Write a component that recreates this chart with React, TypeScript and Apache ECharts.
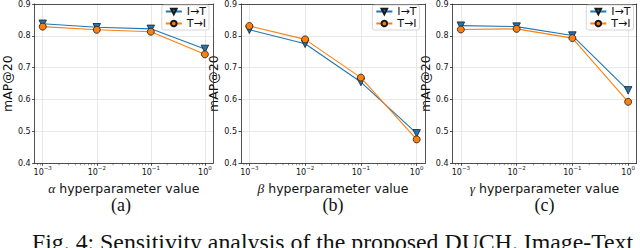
import React, { useEffect, useRef } from "react";
import * as echarts from "echarts";

// ---- data ----
const hyperValues = [0.001, 0.01, 0.1, 1];
const tickExponents = [-3, -2, -1, 0];
const minorTickValues = [
  0.0008, 0.0009,
  0.002, 0.003, 0.004, 0.005, 0.006, 0.007, 0.008, 0.009,
  0.02, 0.03, 0.04, 0.05, 0.06, 0.07, 0.08, 0.09,
  0.2, 0.3, 0.4, 0.5, 0.6, 0.7, 0.8, 0.9,
];
const seriesNames = ["I→T", "T→I"];
const paramSymbols = ["α", "β", "γ"];
const panelLetters = ["(a)", "(b)", "(c)"];
const alphaI2T = [0.838, 0.827, 0.822, 0.759];
const alphaT2I = [0.829, 0.819, 0.813, 0.742];
const betaI2T = [0.819, 0.775, 0.655, 0.494];
const betaT2I = [0.831, 0.789, 0.669, 0.475];
const gammaI2T = [0.832, 0.829, 0.801, 0.629];
const gammaT2I = [0.82, 0.822, 0.793, 0.593];
const captionText = "Fig. 4: Sensitivity analysis of the proposed DUCH. Image-Text";

const panelData = [
  [alphaI2T, alphaT2I],
  [betaI2T, betaT2I],
  [gammaI2T, gammaT2I],
];

// ---- layout / style ----
const gridLefts = [29, 241, 452.5];
const gridWidth = 184;
const gridTop = 3.3;
const gridHeight = 160;
const xMin = -3.15;
const xMax = 0.15;
const yMin = 0.4;
const yMax = 0.9;
const blue = "#1f77b4";
const orange = "#ff7f0e";
const frameColor = "#262626";
const textColor = "#111";
const sans = "DejaVu Sans";
const serif = "Liberation Serif";

function supText(v: number): string {
  if (v === 0) return "0";
  return "\u2212" + Math.abs(v);
}

function buildOption() {
  const grids: any[] = [];
  const xAxes: any[] = [];
  const yAxes: any[] = [];
  const series: any[] = [];
  const legends: any[] = [];
  const graphics: any[] = [];

  const legendRights = [431, 220.5, 6.5];

  for (let i = 0; i < 3; i++) {
    grids.push({
      left: gridLefts[i],
      top: gridTop,
      width: gridWidth,
      height: gridHeight,
      containLabel: false,
    });
  }
  // primary bottom x axes
  for (let i = 0; i < 3; i++) {
    xAxes.push({
      type: "value",
      gridIndex: i,
      position: "bottom",
      min: xMin,
      max: xMax,
      z: 1,
      axisLine: { show: true, onZero: false, lineStyle: { color: frameColor, width: 0.8 } },
      axisTick: {
        show: true,
        length: 2.5,
        customValues: tickExponents,
        lineStyle: { color: frameColor, width: 0.8 },
      },
      axisLabel: {
        show: true,
        customValues: tickExponents,
        margin: 2,
        formatter: (v: number) => `{b|10}{s|${supText(v)}}`,
        rich: {
          b: { fontSize: 8, fontFamily: sans, color: textColor, lineHeight: 11, verticalAlign: "bottom" },
          s: { fontSize: 5.5, fontFamily: sans, color: textColor, verticalAlign: "top" },
        },
      },
      splitLine: { show: true, lineStyle: { color: "#e2e2e2", width: 0.8 } },
      name: `{g|${paramSymbols[i]}} hyperparameter value`,
      nameLocation: "middle",
      nameGap: 13.5,
      nameTextStyle: {
        fontSize: 12.5,
        fontFamily: sans,
        color: textColor,
        lineHeight: 14,
        rich: {
          g: { fontFamily: serif, fontStyle: "italic", fontSize: 13.5, color: textColor, lineHeight: 14 },
        },
      },
    });
  }
  // frame top axes
  for (let i = 0; i < 3; i++) {
    xAxes.push({
      type: "value",
      gridIndex: i,
      position: "top",
      min: xMin,
      max: xMax,
      z: 1,
      axisLine: { show: true, onZero: false, lineStyle: { color: frameColor, width: 0.8 } },
      axisTick: { show: false },
      axisLabel: { show: false },
      splitLine: { show: false },
    });
  }
  // primary left y axes
  for (let i = 0; i < 3; i++) {
    yAxes.push({
      type: "value",
      gridIndex: i,
      position: "left",
      min: yMin,
      max: yMax,
      interval: 0.1,
      z: 0,
      axisLine: { show: true, onZero: false, lineStyle: { color: frameColor, width: 0.8 } },
      axisTick: { show: true, length: 2.5, lineStyle: { color: frameColor, width: 0.8 } },
      axisLabel: {
        show: true,
        margin: 4,
        fontSize: 8,
        fontFamily: sans,
        color: textColor,
        formatter: (v: number) => v.toFixed(1),
      },
      splitLine: { show: true, lineStyle: { color: "#e2e2e2", width: 0.8 } },
      name: "mAP@20",
      nameLocation: "middle",
      nameGap: 15,
      nameTextStyle: { fontSize: 12.5, fontFamily: sans, color: textColor, lineHeight: 13 },
    });
  }
  // frame right axes
  for (let i = 0; i < 3; i++) {
    yAxes.push({
      type: "value",
      gridIndex: i,
      position: "right",
      min: yMin,
      max: yMax,
      z: 1,
      axisLine: { show: true, onZero: false, lineStyle: { color: frameColor, width: 0.8 } },
      axisTick: { show: false },
      axisLabel: { show: false },
      splitLine: { show: false },
    });
  }

  for (let i = 0; i < 3; i++) {
    const [i2t, t2i] = panelData[i];
    series.push({
      type: "line",
      name: seriesNames[0],
      xAxisIndex: i,
      yAxisIndex: i,
      data: hyperValues.map((h, k) => [Math.log10(h), i2t[k]]),
      symbol: "triangle",
      symbolRotate: 180,
      symbolSize: 7.5,
      lineStyle: { color: blue, width: 1.1 },
      itemStyle: { color: blue, borderColor: "#1a1a1a", borderWidth: 0.8 },
      z: 3,
    });
    series.push({
      type: "line",
      name: seriesNames[1],
      xAxisIndex: i,
      yAxisIndex: i,
      data: hyperValues.map((h, k) => [Math.log10(h), t2i[k]]),
      symbol: "circle",
      symbolSize: 7,
      lineStyle: { color: orange, width: 1.1 },
      itemStyle: { color: orange, borderColor: "#1a1a1a", borderWidth: 0.8 },
      z: 4,
    });
    series.push({
      type: "scatter",
      name: "minor",
      xAxisIndex: i,
      yAxisIndex: i,
      data: minorTickValues.map((m) => [Math.log10(m), yMin]),
      symbol: "rect",
      symbolSize: [0.6, 1.8],
      symbolOffset: [0, 1],
      itemStyle: { color: frameColor },
      clip: false,
      silent: true,
      z: 5,
    });

    legends.push({
      data: seriesNames,
      orient: "vertical",
      right: legendRights[i],
      top: 5,
      itemWidth: 16,
      itemHeight: 7,
      itemGap: 1,
      padding: [1, 3, 1, 3],
      backgroundColor: "rgba(255,255,255,0.85)",
      borderColor: "#cccccc",
      borderWidth: 0.8,
      borderRadius: 2,
      selectedMode: false,
      textStyle: { fontSize: 11, fontFamily: sans, color: textColor, lineHeight: 10.5 },
    });

    graphics.push({
      type: "text",
      x: gridLefts[i] + gridWidth / 2,
      y: 205,
      style: {
        text: panelLetters[i],
        fontFamily: serif,
        fontSize: 18,
        fill: textColor,
        align: "center",
        verticalAlign: "middle",
      },
    });
  }

  graphics.push({
    type: "text",
    x: 32,
    y: 242,
    style: {
      text: captionText,
      fontFamily: serif,
      fontSize: 23.8,
      fill: textColor,
      align: "left",
      verticalAlign: "middle",
    },
  });

  return {
    animation: false,
    backgroundColor: "#ffffff",
    grid: grids,
    xAxis: xAxes,
    yAxis: yAxes,
    legend: legends,
    series,
    graphic: graphics,
  };
}

export default function App() {
  const ref = useRef<HTMLDivElement>(null);
  useEffect(() => {
    if (!ref.current) return;
    const chart = echarts.init(ref.current, undefined, { renderer: "svg" });
    chart.setOption(buildOption() as any);
    return () => chart.dispose();
  }, []);
  return (
    <div
      ref={ref}
      style={{ width: 640, height: 248, position: "absolute", left: 0, top: 0 }}
    />
  );
}
